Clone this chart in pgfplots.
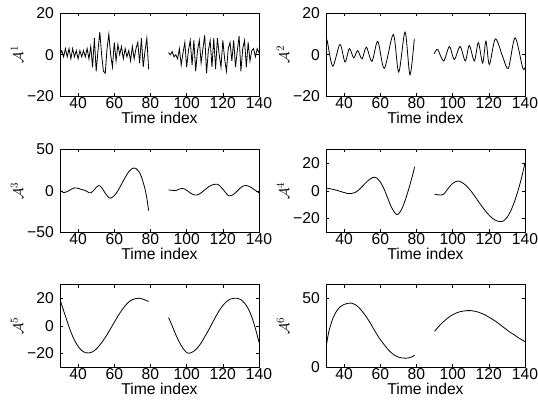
\documentclass[border=0pt]{standalone}
\usepackage{fontspec}
\setmainfont{Liberation Sans}
\usepackage{pgfplots}
\pgfplotsset{compat=1.18}
\pgfplotsset{
 ln/.style={black, line width=0.8bp, mark=none},
 sub/.style={
  scale only axis, width=199bp, height=82.5bp, anchor=south west,
  xmin=30, xmax=140, xtick={40,60,80,100,120,140}, xticklabels={40,60,80,100,120,140},
  tick align=inside, major tick length=3bp, minor tick num=0,
  axis line style={line width=0.6bp}, tick style={line width=0.5bp, black},
  xticklabel style={inner sep=0pt, yshift=-1.5bp},
  yticklabel style={inner sep=0pt, xshift=-6bp},
  xlabel={Time index},
  xlabel style={at={(axis description cs:0.5,-0.26)}, anchor=center},
  ylabel style={at={(axis description cs:-0.216,0.5)}, anchor=center},
  font=\fontsize{15.7bp}{18bp}\selectfont,
 }
}
\begin{document}
\begin{tikzpicture}[x=1bp,y=1bp]
\useasboundingbox (0,0) rectangle (538,408);
% ---- A1
\begin{axis}[sub, at={(60bp,312bp)}, ymin=-20, ymax=20, ytick={-20,0,20}, yticklabels={−20,0,20}, ylabel={$\mathcal{A}^1$}]
\addplot[ln] coordinates {(30,0)(31,2)(32,-1)(33,3)(34,-1)(35,3)(36,-2)(37,3)(38,-1)(39,2)(40,-2)(41,2)(42,-1)(43,2)(44,-1)(45,3)(46,-2)(47,4)(48,-6)(49,8)(50,-8)(51,2)(52,11)(53,0)(54,-8)(55,-9)(56,3)(57,10)(58,0)(59,-6)(60,6)(61,-3)(62,5)(63,0)(64,4)(65,-2)(66,3)(67,-1)(68,2)(69,-3)(70,4)(71,-2)(72,3)(73,6)(74,-4)(75,8)(76,-6)(77,2)(78,8)(79,-7)};
\addplot[ln] coordinates {(90,1)(91,0)(92,1.5)(93,-1)(94,0)(95,-2)(96,3)(97,-5)(98,1)(99,6)(100,-6)(101,2)(102,7)(103,-5)(104,7)(105,-8)(106,2)(107,7)(108,-4)(109,3)(110,9.5)(111,-9)(112,2)(113,7)(114,-6)(115,8)(116,-7)(117,8)(118,0)(119,-6)(120,7)(121,-2)(122,-8)(123,3)(124,6)(125,-3)(126,7)(127,-6)(128,2)(129,9)(130,-8)(131,3)(132,7)(133,-6)(134,6)(135,-3)(136,2)(137,3)(138,-1)(139,3)(140,1)};
\end{axis}
% ---- A2
\begin{axis}[sub, at={(326bp,312bp)}, ymin=-20, ymax=20, ytick={-20,0,20}, yticklabels={−20,0,20}, ylabel={$\mathcal{A}^2$}]
\addplot[ln, smooth] coordinates {(30,6)(30.6,7)(33.7,-5.5)(37.7,5)(40.5,-3.5)(42.9,3)(45.3,-1.5)(47.5,2)(49.9,-2)(52.3,3.7)(55.4,-3.2)(58.6,6.5)(62.2,-6.6)(67.2,9.8)(70.2,-8.4)(73.7,11)(76.4,-9.7)(78.8,7.7)};
\addplot[ln, smooth] coordinates {(89.9,0.5)(91.7,2.6)(95,-3)(98.2,4)(100.9,-2.3)(104.1,4)(107,-3)(109.2,4.5)(112,-3)(114.2,5.8)(116.6,-4)(118.4,6.6)(120.3,-4.7)(123.6,7.7)(127.7,-1)(130.8,-6.6)(134.5,8.2)(138.7,-6.3)(140,-6.2)};
\end{axis}
% ---- A3
\begin{axis}[sub, at={(60bp,176bp)}, ymin=-50, ymax=50, ytick={-50,0,50}, yticklabels={−50,0,50}, ylabel={$\mathcal{A}^3$}]
\addplot[ln, smooth] coordinates {(30,1)(31,-1)(32,-2.2)(34,-1)(36,1.5)(38,3.5)(40,3)(42,1.5)(44,0.3)(46,-2.3)(47,-2.5)(48,-1)(50,4)(51.5,6.3)(53,4)(55,-3)(57,-8.5)(58,-9)(60,-6)(62,0)(64,8)(66,16)(68,23)(70,27)(71,27.5)(72,27)(74,22)(75,17)(76,10)(77,2)(78,-9)(79,-24)};
\addplot[ln, smooth] coordinates {(90,1)(92,0.5)(94,0.3)(96,2)(97.5,3)(99,2)(101,-1)(103,-4)(105,-5.2)(106,-5)(108,-2.5)(110,1)(112,4.5)(114,7)(116,8)(117,8)(118,6.5)(120,2)(122,-3.5)(123.5,-6.3)(125,-5.5)(127,-2.5)(129,2)(131,5.5)(132.5,6.5)(134,5.8)(136,3.5)(138,0.5)(140,-2.5)};
\end{axis}
% ---- A4
\begin{axis}[sub, at={(326bp,176bp)}, ymin=-30, ymax=30, ytick={-20,0,20}, yticklabels={−20,0,20}, ylabel={$\mathcal{A}^4$}]
\addplot[ln, smooth] coordinates {(30,2)(32,1.5)(34,1)(36,0.3)(38,-0.5)(40,-1.3)(42,-2)(44,-2)(46,-1.3)(48,0.5)(50,3)(52,5.8)(54,8.2)(56,9.7)(57,9.8)(58,9.3)(60,6.5)(62,1.5)(64,-5)(66,-11.5)(68,-16)(69,-17.3)(70,-17)(72,-13)(74,-6)(76,2.5)(78,12)(79,17.4)};
\addplot[ln, smooth] coordinates {(90,-2.5)(92,-3)(94,-3)(95,-2.5)(96,-1)(98,2.5)(100,5.3)(102,6.8)(103,7)(104,6.8)(106,5.3)(108,3)(110,0)(112,-3.5)(114,-7.3)(116,-11)(118,-14.5)(120,-17.6)(122,-20)(124,-21.7)(126,-22.4)(127,-22.4)(128,-22)(130,-19.5)(132,-15)(134,-8.5)(136,-0.5)(138,9)(140,20.3)};
\end{axis}
% ---- A5
\begin{axis}[sub, at={(60bp,41bp)}, ymin=-30, ymax=30, ytick={-20,0,20}, yticklabels={−20,0,20}, ylabel={$\mathcal{A}^5$}]
\addplot[ln, smooth] coordinates {(30,19)(32,11)(34,3)(36,-4.5)(38,-10.5)(40,-15)(42,-18)(44,-19.6)(46,-19.8)(48,-19)(50,-17)(52,-14)(54,-10.5)(56,-6.5)(58,-2)(60,2.5)(62,7)(64,11)(66,14.5)(68,17.3)(70,19)(72,19.8)(74,20)(76,19.3)(78,18.2)(79,17.8)};
\addplot[ln, smooth] coordinates {(90,6)(92,0)(94,-6.5)(96,-12)(98,-16.5)(100,-19.5)(101,-20)(102,-19.8)(104,-18.5)(106,-16)(108,-12.5)(110,-8)(112,-3.5)(114,1.5)(116,6.5)(118,11)(120,14.7)(122,17.5)(124,19.3)(126,20)(128,20)(130,19)(132,16.5)(134,12.5)(136,6.5)(138,-2)(140,-12)};
\end{axis}
% ---- A6
\begin{axis}[sub, at={(326bp,41bp)}, ymin=0, ymax=60, ytick={0,50}, yticklabels={0,50}, ylabel={$\mathcal{A}^6$}]
\addplot[ln, smooth] coordinates {(30,14)(31,22)(32,28)(34,36)(36,41)(38,44)(40,45.5)(42,46.3)(44,46.5)(46,45.5)(48,43.5)(50,40.5)(52,37)(54,33)(56,28.5)(58,24)(60,20)(62,16.5)(64,13.2)(66,10.5)(68,8.5)(70,7.2)(72,6.6)(74,6.4)(76,6.7)(78,7.8)(79,8.5)};
\addplot[ln, smooth] coordinates {(90,26)(92,29)(94,31.8)(96,34.2)(98,36.3)(100,38)(102,39.3)(104,40.2)(106,40.7)(108,41)(110,41)(112,40.6)(114,40)(116,39)(118,37.8)(120,36.3)(122,34.7)(124,33)(126,31)(128,29)(130,27)(132,25)(134,23.5)(136,21.5)(138,20)(140,18.5)};
\end{axis}
\end{tikzpicture}
\end{document}
